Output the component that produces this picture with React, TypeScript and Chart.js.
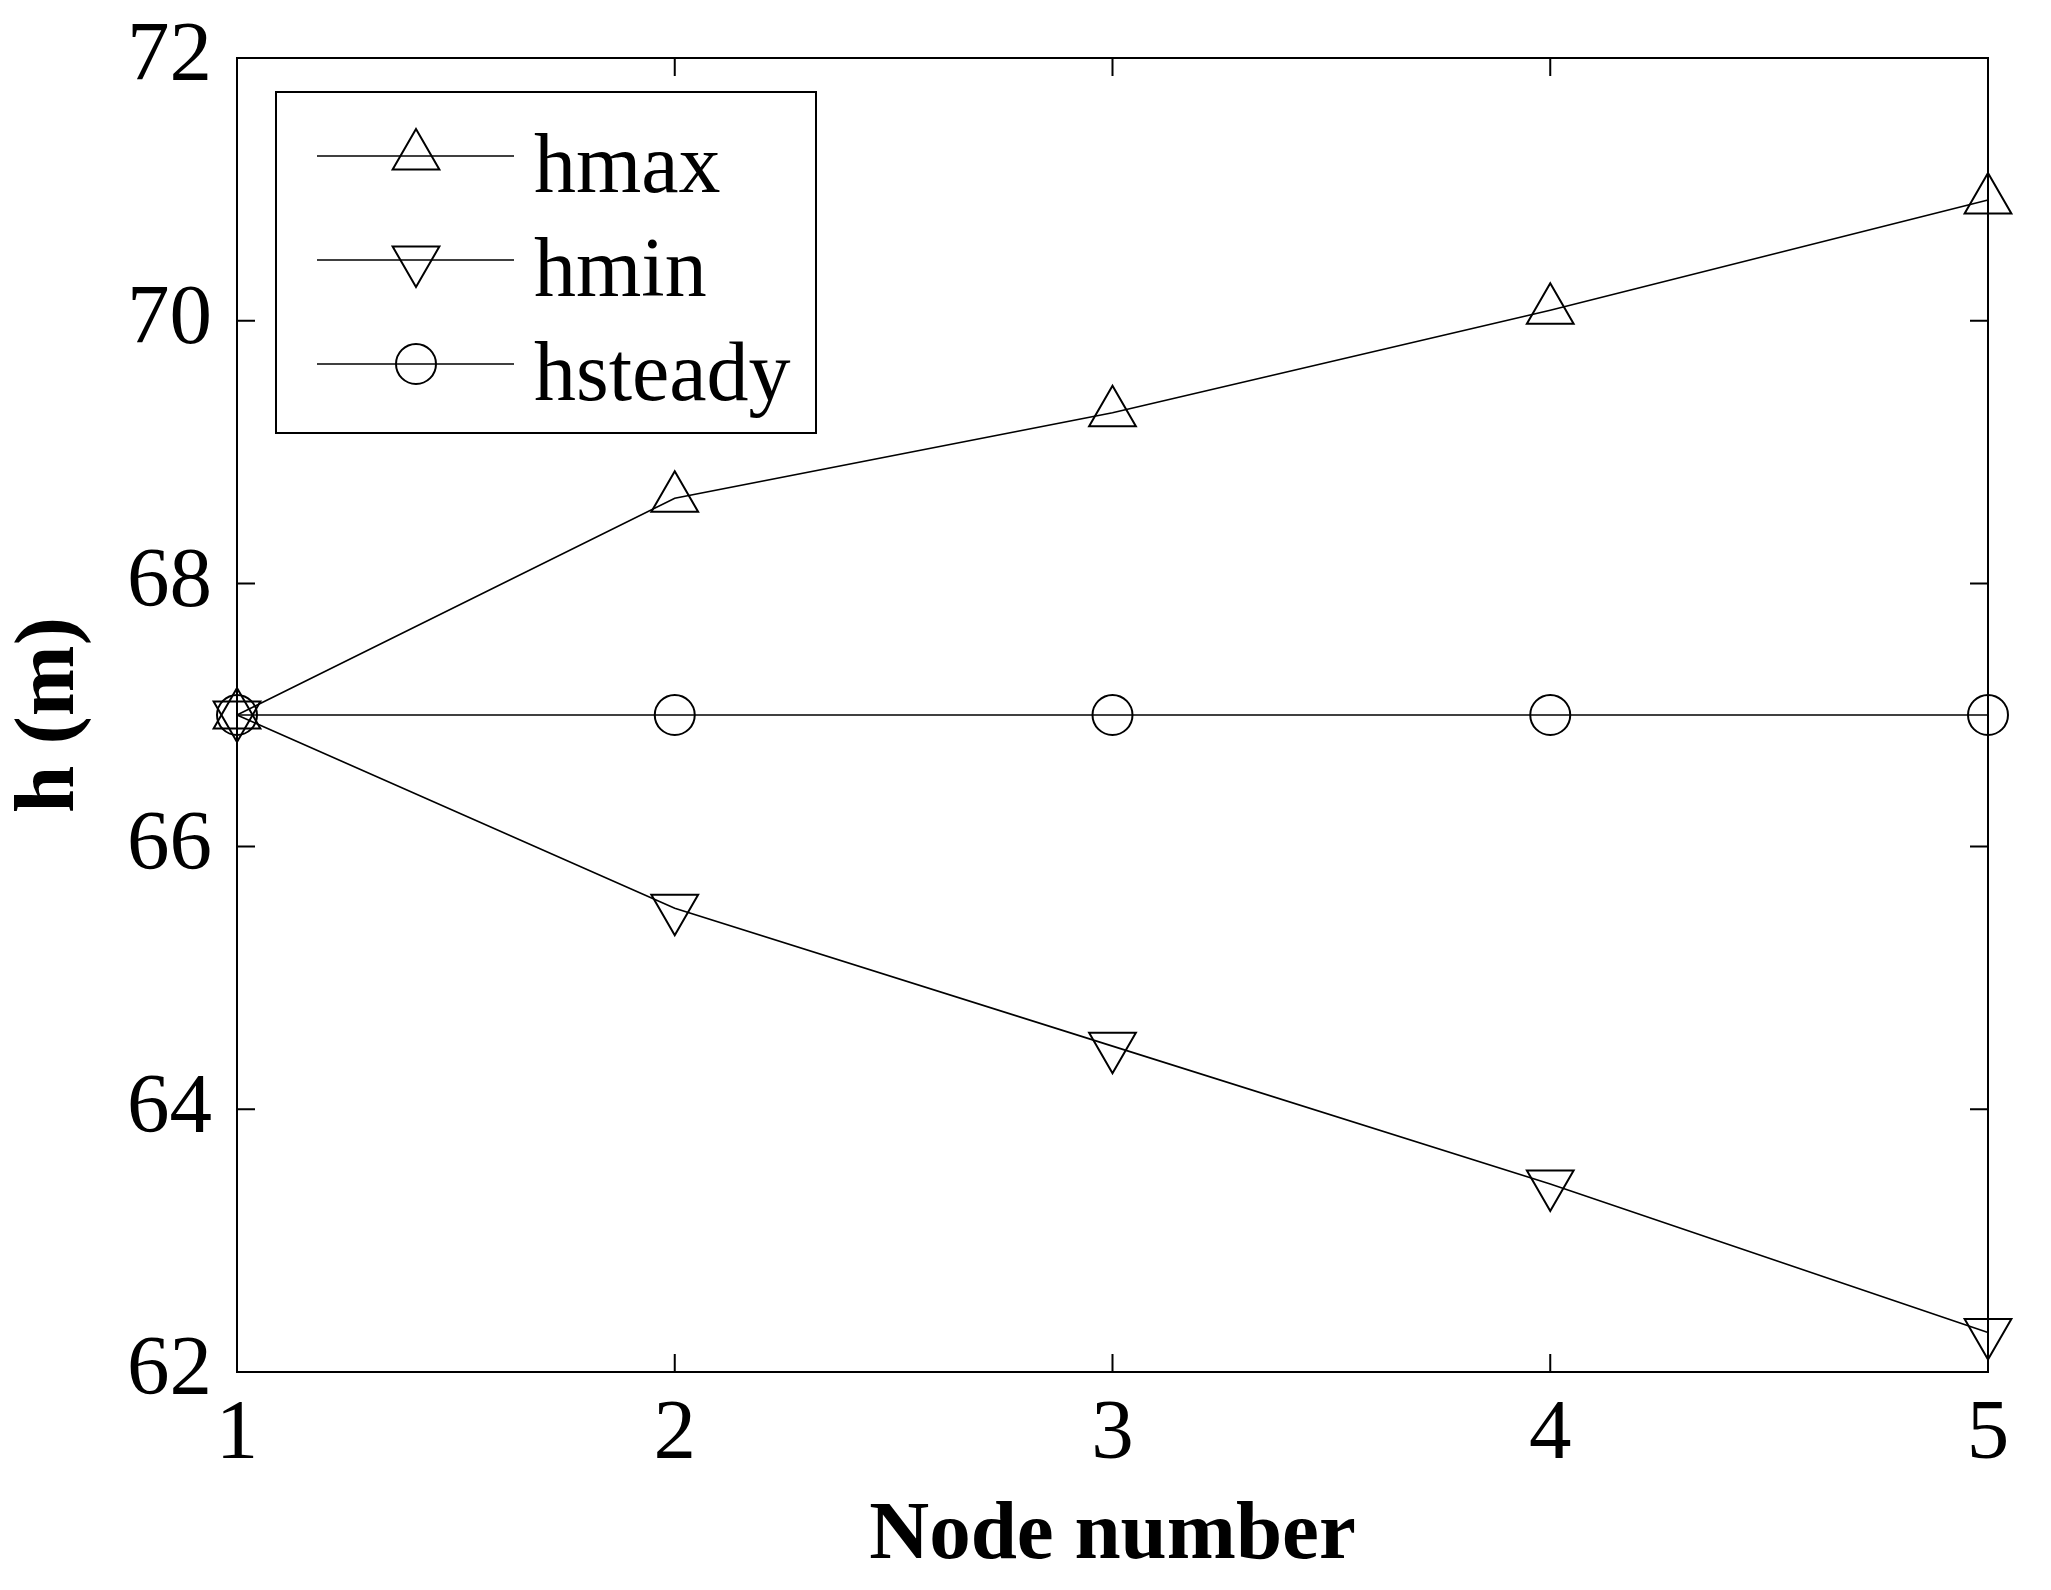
import React, { useEffect, useRef } from "react";
import { Chart, registerables } from "chart.js";

Chart.register(...registerables);

const nodeNumbers = [1, 2, 3, 4, 5];
const hmaxValues = [67.0, 68.65, 69.3, 70.08, 70.92];
const hminValues = [67.0, 65.53, 64.48, 63.43, 62.3];
const hsteadyValues = [67.0, 67.0, 67.0, 67.0, 67.0];
const seriesLabels = ["hmax", "hmin", "hsteady"];
const xTickValues = [1, 2, 3, 4, 5];
const yTickValues = [62, 64, 66, 68, 70, 72];
const xTitle = "Node number";
const yTitle = "h (m)";

const W = 2051;
const H = 1590;
const FONT = "'Liberation Serif', 'Times New Roman', serif";

function drawMarker(ctx: CanvasRenderingContext2D, style: string, rotation: number, r: number, x: number, y: number) {
  ctx.beginPath();
  if (style === "circle") {
    ctx.arc(x, y, r, 0, Math.PI * 2);
  } else {
    let rad = (rotation * Math.PI) / 180;
    const step = (2 * Math.PI) / 3;
    ctx.moveTo(x + Math.sin(rad) * r, y - Math.cos(rad) * r);
    rad += step;
    ctx.lineTo(x + Math.sin(rad) * r, y - Math.cos(rad) * r);
    rad += step;
    ctx.lineTo(x + Math.sin(rad) * r, y - Math.cos(rad) * r);
    ctx.closePath();
  }
  ctx.stroke();
}

const framePlugin = {
  id: "matlabFrame",
  afterDraw(chart: any) {
    const { ctx, chartArea: a, scales } = chart;
    ctx.save();
    ctx.strokeStyle = "#000";
    ctx.lineWidth = 2;
    ctx.strokeRect(a.left, a.top, a.right - a.left, a.bottom - a.top);
    const L = 18;
    ctx.beginPath();
    xTickValues.forEach((v) => {
      const px = scales.x.getPixelForValue(v);
      ctx.moveTo(px, a.bottom);
      ctx.lineTo(px, a.bottom - L);
      ctx.moveTo(px, a.top);
      ctx.lineTo(px, a.top + L);
    });
    yTickValues.forEach((v) => {
      const py = scales.y.getPixelForValue(v);
      ctx.moveTo(a.left, py);
      ctx.lineTo(a.left + L, py);
      ctx.moveTo(a.right, py);
      ctx.lineTo(a.right - L, py);
    });
    ctx.stroke();

    // legend box
    const bx = 276, by = 92, bw = 540, bh = 341;
    ctx.fillStyle = "#fff";
    ctx.fillRect(bx, by, bw, bh);
    ctx.strokeRect(bx, by, bw, bh);
    const rowY = [156, 260, 364];
    chart.data.datasets.forEach((ds: any, i: number) => {
      const y = rowY[i];
      ctx.lineWidth = 1.6;
      ctx.beginPath();
      ctx.moveTo(317, y);
      ctx.lineTo(514, y);
      ctx.stroke();
      ctx.lineWidth = 2;
      drawMarker(ctx, ds.pointStyle, ds.pointRotation || 0, ds.pointRadius, 416, y);
      ctx.fillStyle = "#000";
      ctx.font = `84px ${FONT}`;
      ctx.textBaseline = "alphabetic";
      ctx.textAlign = "left";
      ctx.fillText(ds.label, 534, y + 36);
    });
    ctx.restore();
  },
};

export default function App() {
  const ref = useRef<HTMLCanvasElement | null>(null);
  useEffect(() => {
    if (!ref.current) return;
    const common = {
      borderColor: "#000",
      borderWidth: 1.6,
      pointBorderColor: "#000",
      pointBackgroundColor: "rgba(0,0,0,0)",
      pointBorderWidth: 2,
      fill: false,
      tension: 0,
      clip: false as any,
    };
    const mk = (vals: number[]) => nodeNumbers.map((x, i) => ({ x, y: vals[i] }));
    const chart = new Chart(ref.current, {
      type: "line",
      data: {
        datasets: [
          { ...common, label: seriesLabels[0], data: mk(hmaxValues), pointStyle: "triangle", pointRadius: 27, pointRotation: 0 },
          { ...common, label: seriesLabels[1], data: mk(hminValues), pointStyle: "triangle", pointRadius: 27, pointRotation: 180 },
          { ...common, label: seriesLabels[2], data: mk(hsteadyValues), pointStyle: "circle", pointRadius: 20 },
        ],
      },
      options: {
        responsive: false,
        animation: false,
        events: [],
        layout: { padding: { left: 0, top: 58, right: 63, bottom: 0 } },
        plugins: { legend: { display: false }, tooltip: { enabled: false } },
        scales: {
          x: {
            type: "linear",
            min: 1,
            max: 5,
            afterFit: (s: any) => {
              s.height = 218;
              s.paddingLeft = 0;
              s.paddingRight = 0;
            },
            afterBuildTicks: (s: any) => {
              s.ticks = xTickValues.map((v) => ({ value: v }));
            },
            grid: { display: false, drawTicks: false },
            border: { display: false },
            ticks: {
              color: "#000",
              padding: 13,
              maxRotation: 0,
              font: { family: FONT, size: 85 },
            },
            title: {
              display: true,
              text: xTitle,
              color: "#000",
              font: { family: FONT, size: 83, weight: "bold" },
              padding: { top: 0, bottom: 4 },
            },
          },
          y: {
            type: "linear",
            min: 62,
            max: 72,
            afterFit: (s: any) => {
              s.width = 237;
              s.paddingTop = 0;
              s.paddingBottom = 0;
            },
            afterBuildTicks: (s: any) => {
              s.ticks = yTickValues.map((v) => ({ value: v }));
            },
            grid: { display: false, drawTicks: false },
            border: { display: false },
            ticks: {
              color: "#000",
              padding: 25,
              font: { family: FONT, size: 85 },
            },
            title: {
              display: true,
              text: yTitle,
              color: "#000",
              font: { family: FONT, size: 85, weight: "bold" },
              padding: { top: 0, bottom: 0 },
            },
          },
        },
      },
      plugins: [framePlugin],
    } as any);
    return () => chart.destroy();
  }, []);
  return (
    <div style={{ position: "fixed", left: 0, top: 0, width: W, height: H, background: "#fff" }}>
      <canvas ref={ref} width={W} height={H} style={{ width: W, height: H, display: "block" }} />
    </div>
  );
}
